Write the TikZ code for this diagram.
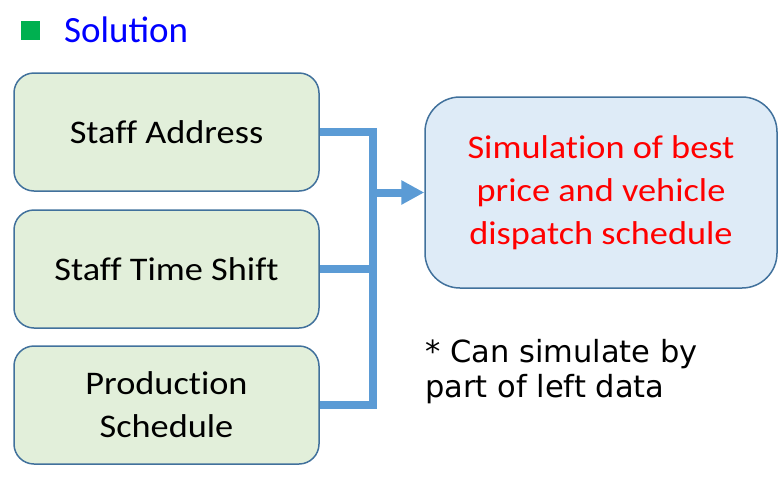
\documentclass[tikz,border=0pt]{standalone}
\usepackage{fontspec}
\setmainfont{Carlito}
\newfontfamily\boxfont[FakeStretch=1.1,Ligatures=NoCommon]{Carlito}
\newfontfamily\notefont{DejaVu Sans}
\usetikzlibrary{arrows.meta,positioning}
\definecolor{boxline}{HTML}{41719C}
\definecolor{datafill}{HTML}{E2EFDA}
\definecolor{simfill}{HTML}{DEEBF7}
\definecolor{busblue}{HTML}{5B9BD5}
\definecolor{markgreen}{HTML}{00B050}

\begin{document}
\begin{tikzpicture}[x=1pt,y=-1pt,
  databox/.style={draw=boxline,line width=1.5pt,fill=datafill,rounded corners=20pt,
    minimum width=305pt,minimum height=118pt,align=center,
    font=\boxfont\fontsize{33}{43}\selectfont},
  bus/.style={draw=busblue,line width=8pt}]
\useasboundingbox (0,0) rectangle (781,477);

\fill[markgreen] (21,21) rectangle (40,40);
\node[anchor=base west,inner sep=0pt,text=blue,font=\fontsize{37}{40}\selectfont]
  (title) at (64,42) {Solution};

\node[databox] (addr) at (166.5,132) {Staff Address};
\node[databox] (shift) at (166.5,269) {Staff Time Shift};
\node[databox] (prod) at (166.5,405) {Production\\Schedule};

\node[draw=boxline,line width=1.5pt,fill=simfill,rounded corners=35pt,
  minimum width=352pt,minimum height=191pt,align=center,text=red,
  font=\boxfont\fontsize{33}{43}\selectfont] (sim) at (601,192.5)
  {Simulation of best\\price and vehicle\\dispatch schedule};

\node[anchor=base west,inner sep=0pt,align=left,
  font=\notefont\fontsize{30.5}{35}\selectfont] (note) at (425,397)
  {* Can simulate by\\part of left data};

\draw[bus] (addr.east) -- ++(53,0) coordinate (jt) |- (prod.east);
\draw[bus] (shift.east) -- (shift.east -| jt);
\draw[bus,-{Triangle[length=23pt,width=23pt]}] (sim.west -| jt) -- (sim.west);
\end{tikzpicture}
\end{document}
